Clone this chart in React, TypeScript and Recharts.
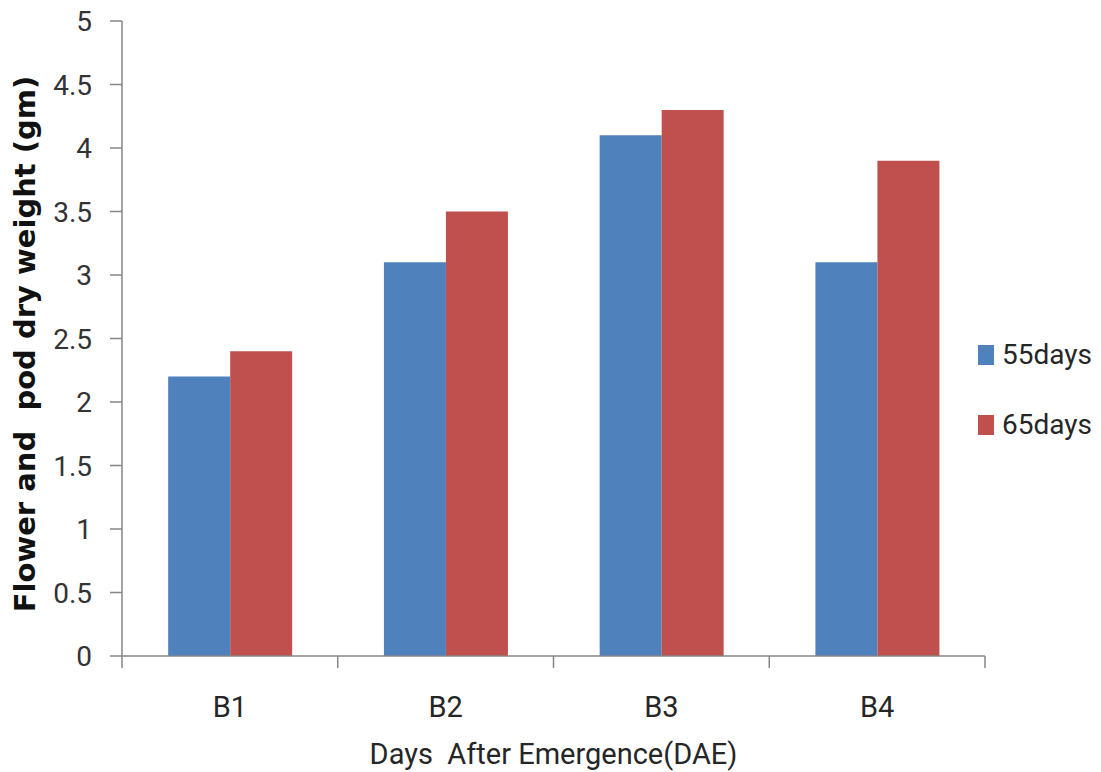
import React from "react";
import { BarChart, Bar, XAxis, YAxis } from "recharts";

// Category labels and series values
const categories = ["B1", "B2", "B3", "B4"];
const days55 = [2.2, 3.1, 4.1, 3.1];
const days65 = [2.4, 3.5, 4.3, 3.9];
const yTicks = [0, 0.5, 1, 1.5, 2, 2.5, 3, 3.5, 4, 4.5, 5];

const seriesNames = ["55days", "65days"];
const colors = ["#4F81BD", "#C0504D"];

const data = categories.map((c, i) => ({
  name: c,
  d55: days55[i],
  d65: days65[i],
}));

const W = 1101;
const H = 772;
const LEFT = 122;
const RIGHT = 116;
const TOP = 21;
const AXIS_Y = 656;
const XAXIS_H = 30;
const AXIS = "#868686";
const FONT = "Roboto, 'Open Sans', sans-serif";
const plotW = W - LEFT - RIGHT;
const halfBand = plotW / categories.length / 2;

const XTick = (props: any) => {
  const { x, payload, index } = props;
  const off = payload && payload.offset ? payload.offset : halfBand;
  const y0 = AXIS_Y;
  return (
    <g>
      <line x1={x - off} y1={y0} x2={x - off} y2={y0 + 12} stroke={AXIS} strokeWidth={1.5} />
      {index === categories.length - 1 && (
        <line x1={x + off} y1={y0} x2={x + off} y2={y0 + 12} stroke={AXIS} strokeWidth={1.5} />
      )}
      <text x={x} y={y0 + 61} textAnchor="middle" fontFamily={FONT} fontSize={29} fill="#262626">
        {payload.value}
      </text>
    </g>
  );
};

const YTick = (props: any) => {
  const { y, payload } = props;
  return (
    <text x={92} y={y + 10} textAnchor="end" fontFamily={FONT} fontSize={28} fill="#333">
      {String(payload.value)}
    </text>
  );
};

export default function App() {
  return (
    <div style={{ position: "absolute", left: 0, top: 0, width: W, height: H, background: "#fff" }}>
      <BarChart
        width={W}
        height={H}
        data={data}
        margin={{ top: TOP, right: RIGHT, bottom: H - AXIS_Y - XAXIS_H, left: 0 }}
        barCategoryGap="21.4%"
        barGap={0}
      >
        <XAxis
          dataKey="name"
          height={XAXIS_H}
          stroke={AXIS}
          strokeWidth={1.5}
          tickLine={false}
          tick={<XTick />}
          interval={0}
        />
        <YAxis
          width={LEFT}
          domain={[0, 5]}
          ticks={yTicks}
          interval={0}
          stroke={AXIS}
          strokeWidth={1.5}
          tickSize={12}
          tick={<YTick />}
        />
        <Bar dataKey="d55" name={seriesNames[0]} fill={colors[0]} isAnimationActive={false} />
        <Bar dataKey="d65" name={seriesNames[1]} fill={colors[1]} isAnimationActive={false} />
      </BarChart>
      <div
        style={{
          position: "absolute",
          left: 978,
          top: 334,
          fontFamily: FONT,
          fontSize: 28,
          color: "#262626",
          lineHeight: "42px",
        }}
      >
        {seriesNames.map((n, i) => (
          <div key={n} style={{ display: "flex", alignItems: "center", marginBottom: i === 0 ? 28 : 0 }}>
            <span style={{ display: "inline-block", width: 16, height: 20, background: colors[i], marginRight: 8 }} />
            <span>{n}</span>
          </div>
        ))}
      </div>
      <svg width={W} height={H} style={{ position: "absolute", left: 0, top: 0, pointerEvents: "none" }}>
        <text
          x={LEFT + plotW / 2}
          y={764}
          textAnchor="middle"
          fontFamily={FONT}
          fontSize={29}
          fill="#262626"
          style={{ whiteSpace: "pre" }}
        >
          Days  After Emergence(DAE)
        </text>
        <text
          transform={`translate(35, ${344}) rotate(-90)`}
          textAnchor="middle"
          fontFamily="'DejaVu Sans', Verdana, sans-serif"
          fontWeight="bold"
          fontSize={29}
          fill="#111"
          style={{ whiteSpace: "pre" }}
        >
          Flower and  pod dry weight (gm)
        </text>
      </svg>
    </div>
  );
}
